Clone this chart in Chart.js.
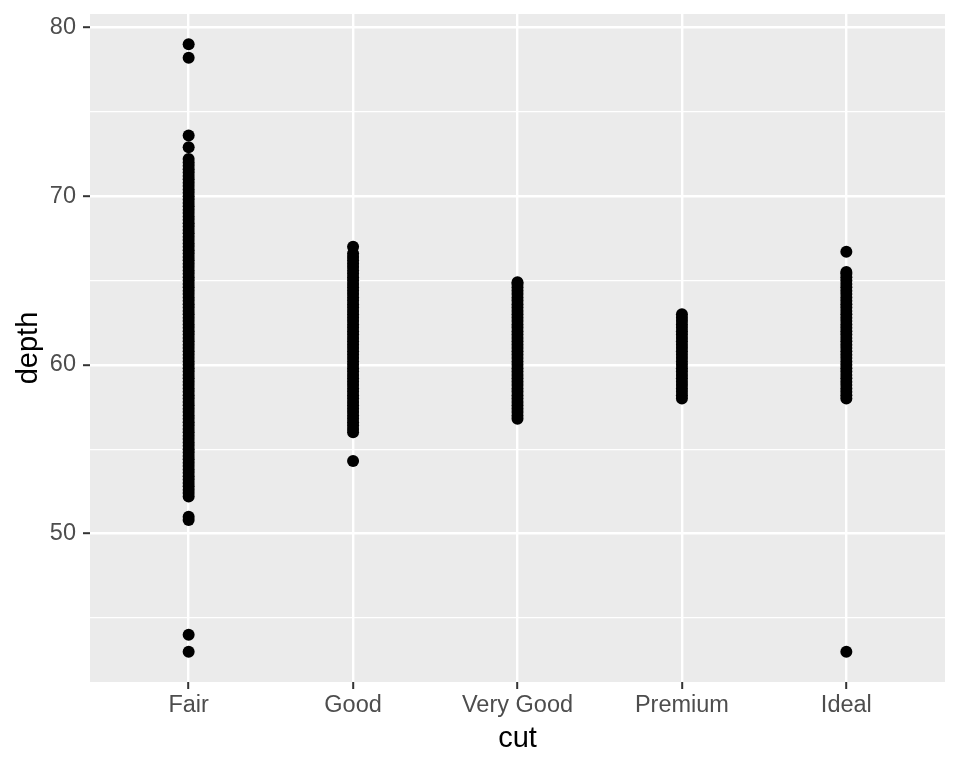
<!DOCTYPE html>
<html>
<head>
<meta charset="utf-8">
<script src="https://cdn.jsdelivr.net/npm/chart.js@4"></script>
<style>
  html, body { margin: 0; padding: 0; background: #ffffff; }
  #wrap { width: 960px; height: 768px; }
</style>
</head>
<body>
<div id="wrap"><canvas id="c" width="960" height="768"></canvas></div>
<script>
const cuts = ["Fair", "Good", "Very Good", "Premium", "Ideal"];
const yTicks = [45, 50, 55, 60, 65, 70, 75, 80];
const yLabelTicks = [50, 60, 70, 80];

const depthFair = [79.0, 78.2, 73.6, 72.9,
  72.2, 72.0, 71.8, 71.6, 71.4, 71.2, 71.0, 70.8, 70.6, 70.4, 70.2, 70.0,
  69.8, 69.6, 69.4, 69.2, 69.0, 68.8, 68.6, 68.4, 68.2, 68.0,
  67.8, 67.6, 67.4, 67.2, 67.0, 66.8, 66.6, 66.4, 66.2, 66.0,
  65.8, 65.6, 65.4, 65.2, 65.0, 64.8, 64.6, 64.4, 64.2, 64.0,
  63.8, 63.6, 63.4, 63.2, 63.0, 62.8, 62.6, 62.4, 62.2, 62.0,
  61.8, 61.6, 61.4, 61.2, 61.0, 60.8, 60.6, 60.4, 60.2, 60.0,
  59.8, 59.6, 59.4, 59.2, 59.0, 58.8, 58.6, 58.4, 58.2, 58.0,
  57.8, 57.6, 57.4, 57.2, 57.0, 56.8, 56.6, 56.4, 56.2, 56.0,
  55.8, 55.6, 55.4, 55.2, 55.0, 54.8, 54.6, 54.4, 54.2, 54.0,
  53.8, 53.6, 53.4, 53.2, 53.0, 52.8, 52.6, 52.4, 52.2,
  51.0, 50.8, 44.0, 43.0];
const depthGood = [67.0,
  66.6, 66.4, 66.2, 66.0, 65.8, 65.6, 65.4, 65.2, 65.0,
  64.8, 64.6, 64.4, 64.2, 64.0, 63.8, 63.6, 63.4, 63.2, 63.0,
  62.8, 62.6, 62.4, 62.2, 62.0, 61.8, 61.6, 61.4, 61.2, 61.0,
  60.8, 60.6, 60.4, 60.2, 60.0, 59.8, 59.6, 59.4, 59.2, 59.0,
  58.8, 58.6, 58.4, 58.2, 58.0, 57.8, 57.6, 57.4, 57.2, 57.0,
  56.8, 56.6, 56.4, 56.2, 56.0,
  54.3];
const depthVeryGood = [64.9, 64.8, 64.6, 64.4, 64.2, 64.0,
  63.8, 63.6, 63.4, 63.2, 63.0, 62.8, 62.6, 62.4, 62.2, 62.0,
  61.8, 61.6, 61.4, 61.2, 61.0, 60.8, 60.6, 60.4, 60.2, 60.0,
  59.8, 59.6, 59.4, 59.2, 59.0, 58.8, 58.6, 58.4, 58.2, 58.0,
  57.8, 57.6, 57.4, 57.2, 57.0, 56.8];
const depthPremium = [63.0, 62.8, 62.6, 62.4, 62.2, 62.0,
  61.8, 61.6, 61.4, 61.2, 61.0, 60.8, 60.6, 60.4, 60.2, 60.0,
  59.8, 59.6, 59.4, 59.2, 59.0, 58.8, 58.6, 58.4, 58.2, 58.0];
const depthIdeal = [66.7,
  65.5, 65.4, 65.2, 65.0, 64.8, 64.6, 64.4, 64.2, 64.0,
  63.8, 63.6, 63.4, 63.2, 63.0, 62.8, 62.6, 62.4, 62.2, 62.0,
  61.8, 61.6, 61.4, 61.2, 61.0, 60.8, 60.6, 60.4, 60.2, 60.0,
  59.8, 59.6, 59.4, 59.2, 59.0, 58.8, 58.6, 58.4, 58.2, 58.0,
  43.0];

const seriesByCut = [depthFair, depthGood, depthVeryGood, depthPremium, depthIdeal];

const allVals = seriesByCut.flat();
const dMin = Math.min(...allVals), dMax = Math.max(...allVals);
const pad = (dMax - dMin) * 0.05;

const datasets = seriesByCut.map((vals, i) => ({
  label: cuts[i],
  data: vals.map(v => ({ x: i + 1, y: v })),
  backgroundColor: '#000000',
  borderColor: '#000000',
  borderWidth: 0,
  pointRadius: 6,
  pointHoverRadius: 6
}));

const panelBg = {
  id: 'panelBg',
  beforeDraw(chart) {
    const { ctx, chartArea: a } = chart;
    ctx.save();
    ctx.fillStyle = '#EBEBEB';
    ctx.fillRect(a.left, a.top, a.right - a.left, a.bottom - a.top);
    ctx.restore();
  }
};

const FONT = "'Liberation Sans', Arial, sans-serif";

new Chart(document.getElementById('c'), {
  type: 'scatter',
  data: { datasets },
  plugins: [panelBg],
  options: {
    responsive: false,
    animation: false,
    devicePixelRatio: 1,
    layout: { padding: { top: 14, right: 15, left: 0, bottom: 0 } },
    plugins: { legend: { display: false }, tooltip: { enabled: false } },
    scales: {
      x: {
        type: 'linear',
        min: 0.4,
        max: 5.6,
        afterBuildTicks(scale) { scale.ticks = cuts.map((c, i) => ({ value: i + 1 })); },
        afterFit(scale) { scale.height = 86; scale.paddingLeft = 0; scale.paddingRight = 0; },
        border: { display: false },
        grid: { color: '#FFFFFF', lineWidth: 2.4, tickColor: '#333333', tickLength: 7, tickWidth: 2 },
        ticks: {
          color: '#4D4D4D',
          font: { family: FONT, size: 23.5 },
          padding: 2,
          maxRotation: 0,
          autoSkip: false,
          callback: (v) => cuts[Math.round(v) - 1]
        },
        title: {
          display: true, text: 'cut', color: '#000000',
          font: { family: FONT, size: 29, lineHeight: 1 },
          padding: { top: 0, bottom: 14.5 }
        }
      },
      y: {
        type: 'linear',
        min: dMin - pad,
        max: dMax + pad,
        afterBuildTicks(scale) { scale.ticks = yTicks.map(v => ({ value: v })); },
        afterFit(scale) { scale.width = 90; scale.paddingTop = 0; scale.paddingBottom = 0; },
        border: { display: false },
        grid: {
          color: '#FFFFFF',
          lineWidth: (c) => yLabelTicks.includes(c.tick && c.tick.value) ? 2.4 : 1.2,
          tickColor: (c) => yLabelTicks.includes(c.tick && c.tick.value) ? '#333333' : 'rgba(0,0,0,0)',
          tickLength: 7,
          tickWidth: 2
        },
        ticks: {
          color: '#4D4D4D',
          font: { family: FONT, size: 23.5 },
          padding: 7,
          autoSkip: false,
          callback: (v) => yLabelTicks.includes(v) ? String(v) : ''
        },
        title: {
          display: true, text: 'depth', color: '#000000',
          font: { family: FONT, size: 29, lineHeight: 1 },
          padding: { top: 14, bottom: 0 }
        }
      }
    }
  }
});
</script>
</body>
</html>
